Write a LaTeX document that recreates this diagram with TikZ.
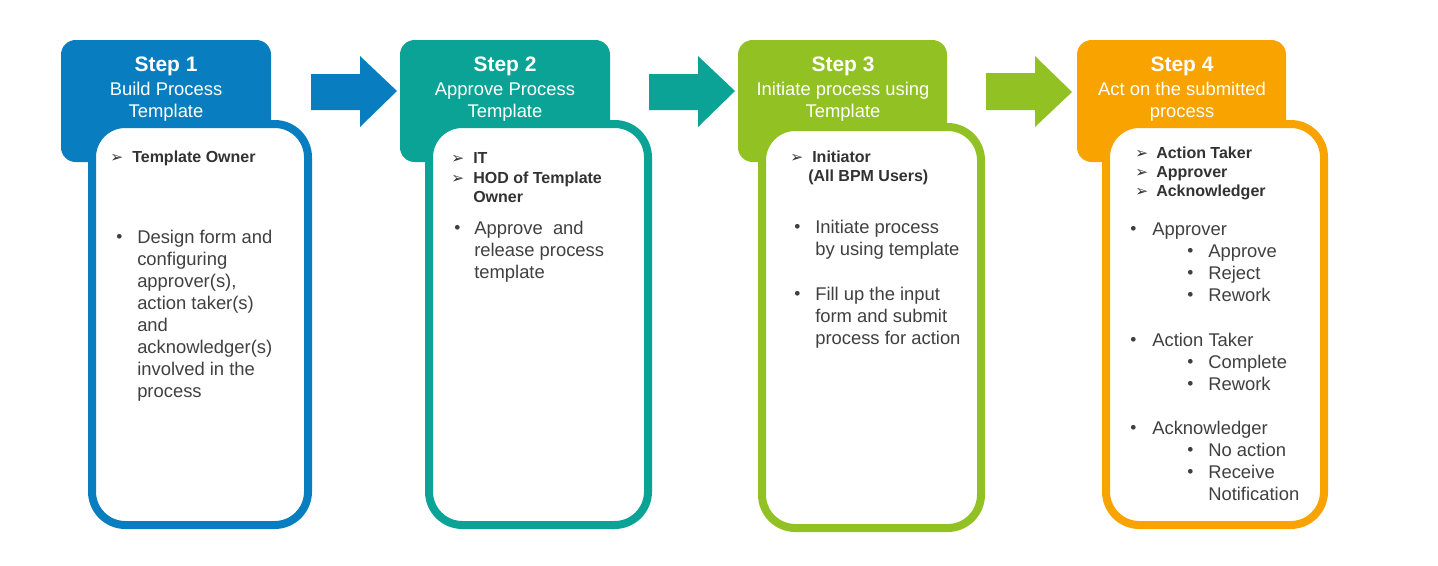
\documentclass[tikz,border=0pt]{standalone}
\usepackage{fontspec}
\setmainfont{Liberation Sans}
\newfontfamily\dejavu{DejaVu Sans}
\definecolor{cblue}{RGB}{8,126,193}
\definecolor{cteal}{RGB}{10,163,150}
\definecolor{cgreen}{RGB}{146,193,35}
\definecolor{corange}{RGB}{248,163,0}
\definecolor{ctext}{RGB}{64,64,64}
\definecolor{crole}{RGB}{50,50,50}
\tikzset{
  hdr/.style={fill=#1, draw=none, rounded corners=11pt},
  card/.style={draw=#1, fill=white, line width=6pt, rounded corners=25pt},
  blockarrow/.style={fill=#1, draw=none},
  steptitle/.style={text=white, font=\fontsize{15.7}{18}\selectfont\bfseries, inner sep=0pt, anchor=base},
  stepsub/.style={text=white, font=\fontsize{13.8}{16}\selectfont, inner sep=0pt, anchor=base},
  role/.style={text=crole, font=\fontsize{12}{14}\selectfont\bfseries, inner sep=0pt, anchor=base west},
  rolemark/.style={text=crole, font=\dejavu\fontsize{11.5}{12}\selectfont, inner sep=0pt, anchor=base west},
  body/.style={text=ctext, font=\fontsize{13.8}{16}\selectfont, inner sep=0pt, anchor=base west},
  bul/.style={text=ctext, font=\fontsize{13}{14}\selectfont, inner sep=0pt, anchor=base west},
}
\begin{document}
\begin{tikzpicture}[x=0.75pt,y=-0.75pt]
\useasboundingbox (0,0) rectangle (1438,565);
\fill[white] (0,0) rectangle (1438,565);

% ---------- block arrows ----------
\fill[blockarrow=cblue] (311,74) -- (360,74) -- (360,56) -- (397,91) -- (360,127) -- (360,110) -- (311,110) -- cycle;
\fill[blockarrow=cteal] (649,74) -- (698,74) -- (698,56) -- (735,91) -- (698,127) -- (698,110) -- (649,110) -- cycle;
\fill[blockarrow=cgreen] (986,73) -- (1035,73) -- (1035,56) -- (1072,92) -- (1035,127) -- (1035,110) -- (986,110) -- cycle;

% ---------- Step 1 ----------
\path[hdr=cblue] (61,40) rectangle (271,162);
\path[card=cblue] (92,124) rectangle (308,525);
\node[steptitle] (s1t) at (166,71) {Step 1};
\node[stepsub] (s1a) at (166,95) {Build Process};
\node[stepsub] (s1b) at (166,117) {Template};
\node[rolemark] (s1m) at (110,162) {➢};
\node[role] (s1r) at (132,162) {Template Owner};
\node[bul] (s1d) at (116,242) {•};
\foreach \t [count=\i from 0] in {Design form and, configuring, {approver(s),}, action taker(s), and, acknowledger(s), involved in the, process}
  \node[body] (s1l\i) at (137,243+22*\i) {\t};

% ---------- Step 2 ----------
\path[hdr=cteal] (400,40) rectangle (610,162);
\path[card=cteal] (429,124) rectangle (648,525);
\node[steptitle] (s2t) at (505,71) {Step 2};
\node[stepsub] (s2a) at (505,95) {Approve Process};
\node[stepsub] (s2b) at (505,117) {Template};
\node[rolemark] (s2m1) at (451,163) {➢};
\node[role] (s2r1) at (473,163) {IT};
\node[rolemark] (s2m2) at (451,183) {➢};
\node[role] (s2r2) at (473,183) {HOD of Template};
\node[role] (s2r3) at (473,202) {Owner};
\node[bul] (s2d) at (454,233) {•};
\foreach \t [count=\i from 0] in {Approve\ \ and, release process, template}
  \node[body] (s2l\i) at (474,234+22*\i) {\t};

% ---------- Step 3 ----------
\path[hdr=cgreen] (738,40) rectangle (947,162);
\path[card=cgreen] (762,127) rectangle (981,528);
\node[steptitle] (s3t) at (843,71) {Step 3};
\node[stepsub] (s3a) at (843,95) {Initiate process using};
\node[stepsub] (s3b) at (843,117) {Template};
\node[rolemark] (s3m) at (790,162) {➢};
\node[role] (s3r1) at (812,162) {Initiator};
\node[role] (s3r2) at (808,181) {(All BPM Users)};
\node[bul] (s3d1) at (794,232) {•};
\node[body] (s3l0) at (815,233) {Initiate process};
\node[body] (s3l1) at (815,255) {by using template};
\node[bul] (s3d2) at (794,299) {•};
\node[body] (s3l2) at (815,300) {Fill up the input};
\node[body] (s3l3) at (815,322) {form and submit};
\node[body] (s3l4) at (815,344) {process for action};

% ---------- Step 4 ----------
\path[hdr=corange] (1077,40) rectangle (1286,162);
\path[card=corange] (1106,124) rectangle (1324,525);
\node[steptitle] (s4t) at (1182,71) {Step 4};
\node[stepsub] (s4a) at (1182,95) {Act on the submitted};
\node[stepsub] (s4b) at (1182,117) {process};
\node[rolemark] (s4m1) at (1135,158) {➢};
\node[role] (s4r1) at (1156,158) {Action Taker};
\node[rolemark] (s4m2) at (1135,177) {➢};
\node[role] (s4r2) at (1156,177) {Approver};
\node[rolemark] (s4m3) at (1135,196) {➢};
\node[role] (s4r3) at (1156,196) {Acknowledger};

\node[bul] (s4d1) at (1130,234) {•};
\node[body] (s4l1) at (1152,235) {Approver};
\node[bul] (s4e1) at (1187,256) {•};
\node[body] (s4k1) at (1208,257) {Approve};
\node[bul] (s4e2) at (1187,278) {•};
\node[body] (s4k2) at (1208,279) {Reject};
\node[bul] (s4e3) at (1187,300) {•};
\node[body] (s4k3) at (1208,301) {Rework};

\node[bul] (s4d2) at (1130,345) {•};
\node[body] (s4l2) at (1152,346) {Action Taker};
\node[bul] (s4e4) at (1187,367) {•};
\node[body] (s4k4) at (1208,368) {Complete};
\node[bul] (s4e5) at (1187,389) {•};
\node[body] (s4k5) at (1208,390) {Rework};

\node[bul] (s4d3) at (1130,433) {•};
\node[body] (s4l3) at (1152,434) {Acknowledger};
\node[bul] (s4e6) at (1187,455) {•};
\node[body] (s4k6) at (1208,456) {No action};
\node[bul] (s4e7) at (1187,477) {•};
\node[body] (s4k7) at (1208,478) {Receive};
\node[body] (s4k8) at (1208,500) {Notification};
\end{tikzpicture}
\end{document}
